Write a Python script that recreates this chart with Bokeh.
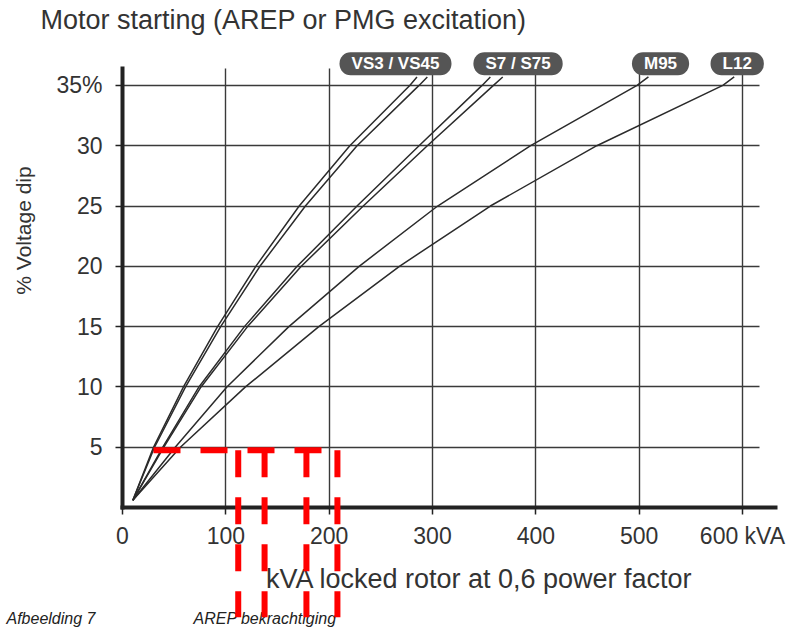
import math
from bokeh.plotting import figure
from bokeh.models import FixedTicker, Label
from bokeh.core.properties import value
from bokeh.embed import file_html
from bokeh.resources import INLINE

# ---------------- data ----------------
pct_levels = [0.6, 5, 10, 15, 20, 25, 30, 35, 35.7]          # % voltage dip
vs3_kva = [10, 30, 59, 92, 129, 171, 220, 278, 285]
vs45_kva = [10, 31, 61, 95, 133, 177, 227, 287, 295]
s7_kva = [10, 39, 74, 118, 169, 227, 287, 348, 356]
s75_kva = [10, 40, 76, 121, 173, 233, 295, 359, 368]
m95_kva = [10, 51, 101, 161, 229, 305, 395, 498, 509]
l12_kva = [10, 56, 119, 190, 268, 356, 459, 581, 592]

tag_texts = ["VS3 / VS45", "S7 / S75", "M95", "L12"]

x_ticks = [0, 100, 200, 300, 400, 500, 600]
x_tick_labels = ["0", "100", "200", "300", "400", "500", "600 kVA"]
y_ticks = [5, 10, 15, 20, 25, 30, 35]
y_tick_labels = ["5", "10", "15", "20", "25", "30", "35%"]

# red dashed markings
red_h_kva = [30, 208]
red_h_pct = 4.75
red_v_kva = [112, 137.5, 178, 208]
red_v_pct = [4.75, -9.1]

# ---------------- layout / style ----------------
FONT = "Liberation Sans"
INK = "#333333"
AXIS = "#222222"
GRID = "#3a3a3a"
CURVE = "#2b2b2b"

p = figure(width=805, height=628, x_range=(-118.07, 661.0), y_range=(-10.03, 42.04),
           output_backend="svg", toolbar_location=None, title=None, min_border=0,
           outline_line_color=None, background_fill_color="white",
           border_fill_color="white")

# axes placed at the origin inside the frame
xa = p.xaxis[0]
ya = p.yaxis[0]
for ax in (xa, ya):
    ax.fixed_location = 0
    ax.axis_line_width = 4
    ax.axis_line_color = AXIS
    ax.axis_line_cap = "square"
    ax.major_tick_out = 7
    ax.major_tick_in = 0
    ax.major_tick_line_width = 1.5
    ax.major_tick_line_color = AXIS
    ax.minor_tick_out = 0
    ax.minor_tick_in = 0
    ax.minor_tick_line_color = None
    ax.major_label_text_font = FONT
    ax.major_label_text_font_size = "23px"
    ax.major_label_text_color = INK
xa.bounds = (0, 632)
ya.bounds = (0, 36.4)
xa.ticker = FixedTicker(ticks=x_ticks)
ya.ticker = FixedTicker(ticks=y_ticks)
xa.major_label_overrides = {t: l for t, l in zip(x_ticks, x_tick_labels)}
ya.major_label_overrides = {t: l for t, l in zip(y_ticks, y_tick_labels)}
xa.major_label_standoff = 8
ya.major_label_standoff = 13

p.xgrid.grid_line_color = GRID
p.xgrid.grid_line_width = 1.4
p.xgrid.cross_bounds = (0, 36.4)
p.ygrid.grid_line_color = GRID
p.ygrid.grid_line_width = 1.4
p.ygrid.cross_bounds = (0, 616.6)

# curves
for kva in (vs3_kva, vs45_kva, s7_kva, s75_kva, m95_kva, l12_kva):
    p.line(x=kva, y=pct_levels, line_color=CURVE, line_width=1.5, line_join="round")

# tags at the curve ends
tag_x = [264.2, 382.8, 520.7, 594.9]
tag_y = [36.8, 36.8, 36.8, 36.8]
p.text(x=tag_x, y=tag_y, text=tag_texts, text_color="white",
       text_font=value(FONT), text_font_style="bold", text_font_size="17px",
       text_align="center", text_baseline="middle",
       background_fill_color="#555555", border_radius=11,
       padding=dict(left=12, right=12, top=2, bottom=2))

# red dashed markings
red_xs = [red_h_kva] + [[v, v] for v in red_v_kva]
red_ys = [[red_h_pct, red_h_pct]] + [list(red_v_pct) for _ in red_v_kva]
p.multi_line(xs=red_xs, ys=red_ys, line_color="#ff0000", line_width=6,
             line_dash="27 20", level="overlay")

# titles
p.add_layout(Label(x=-79.4, y=40.46, text="Motor starting (AREP or PMG excitation)",
                   text_font=FONT, text_font_size="27px", text_color=INK,
                   text_align="left", text_baseline="middle"))
p.add_layout(Label(x=345.5, y=-5.89, text="kVA locked rotor at 0,6 power factor",
                   text_font=FONT, text_font_size="27px", text_color=INK,
                   text_align="center", text_baseline="middle"))
p.add_layout(Label(x=-95.8, y=22.97, text="% Voltage dip", angle=math.pi / 2,
                   text_font=FONT, text_font_size="21px", text_color=INK,
                   text_align="center", text_baseline="middle"))
# caption at the bottom edge (kept fully visible)
p.add_layout(Label(x=-112.3, y=-8.46, text="Afbeelding 7", text_font=FONT,
                   text_font_style="italic", text_font_size="16px", text_color="#222222",
                   text_align="left", text_baseline="top"))
p.add_layout(Label(x=68.7, y=-8.46, text="AREP bekrachtiging", text_font=FONT,
                   text_font_style="italic", text_font_size="16px", text_color="#222222",
                   text_align="left", text_baseline="top"))

open("out.html", "w").write(file_html(p, INLINE))
